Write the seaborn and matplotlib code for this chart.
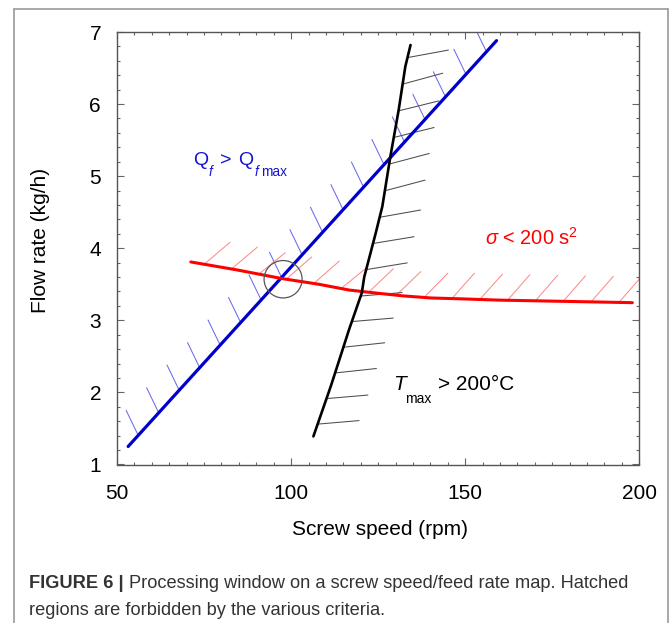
import matplotlib
matplotlib.use("Agg")
import matplotlib.pyplot as plt
import seaborn as sns
from matplotlib import patheffects as pe
from matplotlib.patches import Ellipse
from matplotlib.lines import Line2D
from matplotlib.ticker import MultipleLocator

# ---------------- data ----------------
# Q_f = Q_f max boundary (blue)
q_speed = [53.2, 159.0]
q_flow = [1.25, 6.88]

# T_max = 200 °C boundary (black)
t_speed = [106.4, 111.5, 116.7, 120.3, 121.0, 124.3, 126.2, 128.5, 130.9, 132.8, 134.3]
t_flow = [1.39, 2.10, 2.88, 3.38, 3.60, 4.21, 4.58, 5.27, 5.92, 6.52, 6.82]

# sigma = 200 s^2 boundary (red)
s_speed = [71.2, 84.4, 97.3, 108.0, 116.7, 124.1, 132.0, 140.2, 147.6, 160.0, 171.2, 198.0]
s_flow = [3.81, 3.70, 3.58, 3.50, 3.42, 3.38, 3.34, 3.31, 3.30, 3.28, 3.27, 3.245]

# circled operating point
op_speed = 97.7
op_flow = 3.57

x_ticks = [50, 100, 150, 200]
y_ticks = [1, 2, 3, 4, 5, 6, 7]

x_label = "Screw speed (rpm)"
y_label = "Flow rate (kg/h)"
caption_bold = "FIGURE 6 |"
caption_1 = "Processing window on a screw speed/feed rate map. Hatched"
caption_2 = "regions are forbidden by the various criteria."

# ---------------- style ----------------
W, H = 672, 623
sns.set_theme(style="ticks")
plt.rcParams["font.family"] = ["Liberation Sans", "DejaVu Sans"]
plt.rcParams["mathtext.fontset"] = "custom"
plt.rcParams["mathtext.rm"] = "Liberation Sans"
plt.rcParams["mathtext.it"] = "Liberation Sans:italic"
plt.rcParams["mathtext.bf"] = "Liberation Sans:bold"

BLUE = "#0000cd"
BLUE_T = "#1414d2"
BLUE_H = "#6b6be8"
RED = "#ff0000"
RED_H = "#ff8a8a"
BLACK = "#000000"
BLACK_H = "#4d4d4d"

fig = plt.figure(figsize=(W / 100, H / 100), dpi=100)
fig.patch.set_facecolor("white")
ax = fig.add_axes([117 / W, 1 - 464.5 / H, (639.3 - 117) / W, (464.5 - 32) / H])

# hatching (ticks only) along each boundary
sns.lineplot(x=q_speed, y=q_flow, ax=ax, sort=False, estimator=None, color=BLUE_H, lw=0.75,
             zorder=1.5, path_effects=[pe.TickedStroke(spacing=21.6, angle=68, length=0.93)])
sns.lineplot(x=s_speed, y=s_flow, ax=ax, sort=False, estimator=None, color=RED_H, lw=0.75,
             zorder=1.5, path_effects=[pe.TickedStroke(spacing=19.4, angle=50, length=1.26)])
sns.lineplot(x=t_speed, y=t_flow, ax=ax, sort=False, estimator=None, color=BLACK_H, lw=0.75,
             zorder=1.5, path_effects=[pe.TickedStroke(spacing=18.7, angle=-66, length=1.6)])

# main boundaries
sns.lineplot(x=q_speed, y=q_flow, ax=ax, sort=False, estimator=None, color=BLUE, lw=2.3, zorder=3)
sns.lineplot(x=s_speed, y=s_flow, ax=ax, sort=False, estimator=None, color=RED, lw=2.2, zorder=3)
sns.lineplot(x=t_speed, y=t_flow, ax=ax, sort=False, estimator=None, color=BLACK, lw=1.9, zorder=3)

# circle around the operating point
ax.add_patch(Ellipse((op_speed, op_flow), width=2 * 19 / 3.482, height=2 * 18.7 / 72.08,
                     fill=False, edgecolor="#555555", lw=0.9, zorder=4))


# annotations built from pieces (offsets in pixels -> points)
def label(anchor, pieces, color):
    for txt, dx, dy, size, style in pieces:
        ax.annotate(txt, xy=anchor, xytext=(dx * 0.72, -dy * 0.72), textcoords="offset points",
                    ha="left", va="baseline", fontsize=size, style=style, color=color)


label((71.75, 5.155), [
    ("Q", 0, 0, 14, "normal"),
    ("f", 15.5, 11.5, 9.8, "italic"),
    (">", 27.3, 0, 14, "normal"),
    ("Q", 45.3, 0, 14, "normal"),
    ("f", 62.0, 11.5, 9.8, "italic"),
    ("max", 68.5, 11.5, 9.8, "normal"),
], BLUE_T)

label((129.4, 2.035), [
    ("T", 0, 0, 15, "italic"),
    ("max", 12.0, 13.3, 10, "normal"),
    ("> 200°C", 44.7, 0, 15, "normal"),
], BLACK)

ax.text(155.75, 4.046, r"$\sigma$ < 200 s$^{2}$", color=RED, fontsize=14.4,
        ha="left", va="baseline")

# axes
ax.set_xlim(50, 200)
ax.set_ylim(1, 7)
ax.set_xticks(x_ticks)
ax.set_yticks(y_ticks)
ax.xaxis.set_minor_locator(MultipleLocator(5))
ax.yaxis.set_minor_locator(MultipleLocator(0.2))
ax.tick_params(which="both", direction="in", top=True, right=True, color="#666666", width=0.8,
               labelsize=15, labelcolor="black")
ax.tick_params(which="major", length=5)
ax.tick_params(which="minor", length=2.5)
ax.tick_params(axis="x", which="major", pad=14)
ax.tick_params(axis="y", which="major", pad=11.5)
for sp in ax.spines.values():
    sp.set_color("#555555")
    sp.set_linewidth(1.0)

ax.set_xlabel(x_label, fontsize=15, color="black")
ax.xaxis.set_label_coords(0.5026, -0.128)
ax.set_ylabel(y_label, fontsize=15, color="black")
ax.yaxis.set_label_coords(-0.128, 0.517)

# outer figure frame
fc = "#9a9a9a"
fig.add_artist(Line2D([14 / W, 14 / W], [0, 1 - 9 / H], transform=fig.transFigure, color=fc, lw=1.2))
fig.add_artist(Line2D([14 / W, 667.7 / W], [1 - 9 / H, 1 - 9 / H], transform=fig.transFigure, color=fc, lw=1.2))
fig.add_artist(Line2D([667.7 / W, 667.7 / W], [0, 1 - 9 / H], transform=fig.transFigure, color=fc, lw=1.2))

# caption
cap_col = "#333333"
t1 = fig.text(29 / W, 1 - 588 / H, caption_bold, weight="bold", color=cap_col, va="baseline", ha="left")
t2 = fig.text(0.2, 1 - 588 / H, caption_1, color=cap_col, va="baseline", ha="left")
t3 = fig.text(29 / W, 1 - 615 / H, caption_2, color=cap_col, va="baseline", ha="left")

renderer = fig.canvas.get_renderer()


def layout(s):
    for t in (t1, t2, t3):
        t.set_fontsize(s)
    bb1 = t1.get_window_extent(renderer)
    gap = 0.27 * s * 100 / 72
    t2.set_x((bb1.x1 + gap) / W)
    bb2 = t2.get_window_extent(renderer)
    return bb2.x1 - bb1.x0


size = 13.0
for _ in range(3):
    w = layout(size)
    size *= 599.0 / w
layout(size)

fig.savefig("out.png", dpi=100, facecolor="white")
